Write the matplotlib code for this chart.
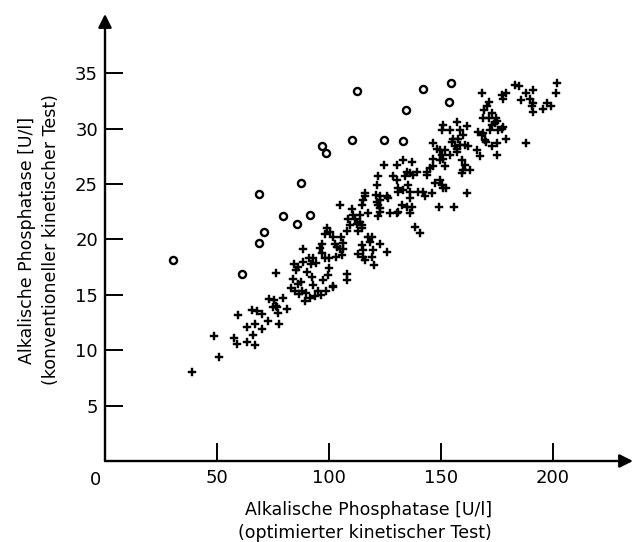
import numpy as np
import matplotlib.pyplot as plt

# optimierter Test (x) vs. konventioneller Test (y), U/l
circle_x = [30.5, 61.4, 68.8, 71.0, 68.9, 79.7, 85.6, 91.6, 87.4, 96.8,
            98.7, 110.5, 112.5, 124.7, 133.3, 134.3, 141.9, 153.8, 154.5]
circle_y = [18.1, 16.9, 19.7, 20.7, 24.1, 22.1, 21.4, 22.2, 25.1, 28.4,
            27.8, 29.0, 33.4, 29.0, 28.9, 31.7, 33.6, 32.4, 34.1]

plus_pts = [
    # lower part
    (39.0, 8.0), (51.1, 9.4), (48.7, 11.3), (57.6, 11.1), (58.8, 10.6), (63.6, 10.7),
    (67.2, 10.5), (66.0, 11.4), (63.6, 12.1), (67.2, 12.4), (70.0, 11.9), (59.6, 13.2),
    (72.7, 12.6), (77.9, 12.4), (65.8, 13.6), (67.8, 13.5), (70.0, 13.3), (77.1, 13.4),
    (81.2, 13.7), (73.3, 14.6), (75.5, 14.5), (76.3, 14.0), (75.0, 13.9), (77.0, 13.9),
    (79.7, 14.7), (76.4, 17.0), (83.3, 15.6), (85.0, 15.3), (86.5, 15.1), (88.0, 15.3),
    (89.4, 14.4), (91.6, 14.7), (95.0, 15.3), (98.7, 15.3), (101.7, 15.7), (97.6, 16.3),
    (93.1, 15.9), (92.3, 16.6), (87.8, 16.2), (86.4, 16.0), (85.2, 17.2), (86.4, 17.5),
    (88.6, 18.0), (90.1, 17.1), (92.0, 17.8), (93.1, 18.3), (94.5, 17.9), (88.6, 19.1),
    (96.8, 19.6), (96.1, 19.2), (100.0, 18.3), (100.0, 17.4), (108.0, 16.9), (108.0, 16.3),
    (105.7, 18.6), (106.5, 19.1), (104.8, 19.1), (98.3, 20.5), (100.5, 20.7), (105.5, 20.2),
    (106.3, 19.7), (102.8, 19.6), (102.0, 20.2), (103.5, 19.3), (97.0, 18.8), (84.5, 17.8),
    (91.0, 18.3), (98.5, 18.3), (103.0, 18.4), (99.8, 16.8), (101.9, 15.8), (84.0, 16.4),
    (90.0, 15.2), (94.0, 14.9), (96.5, 15.0),
    # middle part
    (124.7, 26.7), (130.3, 26.7), (128.8, 25.7), (130.3, 25.4), (122.1, 25.7), (121.4, 24.9),
    (131.0, 24.6), (131.0, 24.3), (125.9, 23.9), (126.6, 23.7), (121.1, 24.0), (122.9, 23.9),
    (122.9, 23.6), (121.4, 23.4), (122.1, 23.1), (122.9, 22.8), (122.9, 22.5), (122.1, 22.1),
    (116.2, 24.2), (116.2, 23.9), (115.4, 23.6), (114.7, 23.1), (117.7, 22.4), (114.0, 22.2),
    (105.0, 23.1), (131.0, 22.5), (130.3, 22.4), (127.3, 22.4), (138.5, 21.1), (140.8, 20.6),
    (110.2, 22.7), (110.9, 22.2), (111.7, 21.8), (112.4, 21.4), (113.9, 21.6), (114.7, 21.3),
    (114.7, 21.0), (113.2, 20.8), (108.7, 21.8), (109.5, 21.3), (108.0, 20.8), (99.0, 21.0),
    (117.7, 20.2), (119.2, 20.2), (118.4, 19.8), (122.9, 19.6), (114.7, 19.5), (115.4, 19.0),
    (113.2, 18.7), (115.4, 18.4), (116.2, 18.1), (119.9, 19.0), (119.2, 18.4), (125.9, 18.9),
    (120.2, 17.7),
    # upper part
    (201.8, 34.1), (201.4, 33.2), (183.2, 33.9), (185.1, 33.8), (188.1, 33.2), (191.1, 33.5),
    (185.7, 32.6), (189.9, 32.7), (191.1, 32.3), (190.6, 32.0), (191.3, 31.5), (197.3, 32.3),
    (195.8, 31.8), (199.5, 32.0), (188.1, 28.7), (168.3, 33.2), (177.2, 33.0), (179.4, 33.2),
    (178.0, 32.7), (171.5, 32.4), (170.5, 32.0), (169.5, 31.7), (169.0, 31.0), (171.5, 31.0),
    (173.0, 31.4), (174.5, 31.0), (175.0, 30.7), (172.8, 30.3), (174.3, 30.5), (172.0, 29.9),
    (175.7, 29.9), (177.2, 30.0), (179.4, 29.1), (175.0, 28.7), (172.8, 28.4), (169.8, 29.0),
    (168.3, 29.4), (166.8, 29.7), (175.0, 27.6), (166.0, 28.1), (167.6, 27.5), (157.1, 30.6),
    (151.2, 30.3), (154.2, 29.9), (150.4, 29.9), (158.6, 29.9), (161.6, 30.2), (160.1, 29.4),
    (157.9, 29.1), (155.6, 29.1), (154.9, 28.8), (156.4, 28.4), (157.1, 28.2), (158.6, 28.5),
    (160.9, 28.5), (162.3, 28.4), (151.9, 28.1), (149.7, 28.1), (150.4, 27.6), (146.7, 28.7),
    (148.2, 28.2), (146.4, 27.3), (149.7, 27.2), (151.2, 27.3), (151.9, 26.6), (159.3, 27.2),
    (160.9, 26.7), (160.1, 26.3), (159.3, 26.0), (163.1, 26.3), (161.6, 24.2), (133.3, 27.2),
    (137.0, 27.0), (134.8, 26.1), (136.3, 26.0), (137.8, 25.8), (139.3, 26.1), (134.0, 25.7),
    (135.5, 24.9), (133.3, 24.5), (136.3, 24.3), (134.8, 22.9), (137.0, 22.9), (136.3, 22.4),
    (143.7, 26.1), (145.2, 26.4), (146.7, 26.6), (143.7, 25.8), (140.0, 24.3), (142.3, 24.3),
    (143.0, 23.9), (146.0, 24.2), (149.7, 25.4), (150.4, 24.9), (151.2, 24.6), (149.4, 22.9),
    (156.0, 22.9), (177.7, 30.1), (169.0, 29.6), (170.2, 28.8), (154.0, 27.6), (157.3, 27.9),
    (152.4, 24.6), (147.5, 25.1), (136.3, 23.7), (132.5, 23.1),
]
plus_x = [p[0] for p in plus_pts]
plus_y = [p[1] for p in plus_pts]

x_ticks = [50, 100, 150, 200]
y_ticks = [5, 10, 15, 20, 25, 30, 35]

W, H = 633, 542
fig = plt.figure(figsize=(W / 100, H / 100), dpi=100)
# axes: x=0 at px 105, y=0 at px 461
ax = fig.add_axes([105 / W, (H - 461) / H, (W - 105) / W, (461 - 14) / H])
xmax = (W - 105) / 2.238
ymax = (461 - 14) / 11.08
ax.set_xlim(0, xmax)
ax.set_ylim(0, ymax)

for s in ax.spines.values():
    s.set_visible(False)

ax.scatter(plus_x, plus_y, marker='P', s=36, color='black', linewidths=0.3,
           edgecolors='black', zorder=3)
ax.scatter(circle_x, circle_y, marker='o', s=26, facecolors='white',
           edgecolors='black', linewidths=1.7, zorder=3)

# axes with arrows
arrow = dict(arrowstyle='-|>', lw=1.7, color='black', mutation_scale=20,
             shrinkA=0, shrinkB=0)
ax.annotate('', xy=(xmax, 0), xytext=(0, 0), arrowprops=arrow, annotation_clip=False)
ax.annotate('', xy=(0, ymax), xytext=(0, 0), arrowprops=arrow, annotation_clip=False)

ax.set_xticks(x_ticks)
ax.set_yticks(y_ticks)
ax.tick_params(direction='in', length=13, width=1.4, color='black',
               labelsize=13)
ax.tick_params(axis='x', pad=6)
ax.tick_params(axis='y', pad=5)

fig.text(95 / W, 1 - 480 / H, '0', ha='center', va='center', fontsize=13)

fig.text(369 / W, 1 - 510 / H, 'Alkalische Phosphatase [U/l]',
         ha='center', va='center', fontsize=12.5)
fig.text(365 / W, 1 - 533 / H, '(optimierter kinetischer Test)',
         ha='center', va='center', fontsize=12.5)
fig.text(27 / W, 1 - 240 / H, 'Alkalische Phosphatase [U/l]',
         ha='center', va='center', rotation=90, fontsize=12.5)
fig.text(51 / W, 1 - 240 / H, '(konventioneller kinetischer Test)',
         ha='center', va='center', rotation=90, fontsize=12.5)

fig.savefig('out.png', dpi=100)
